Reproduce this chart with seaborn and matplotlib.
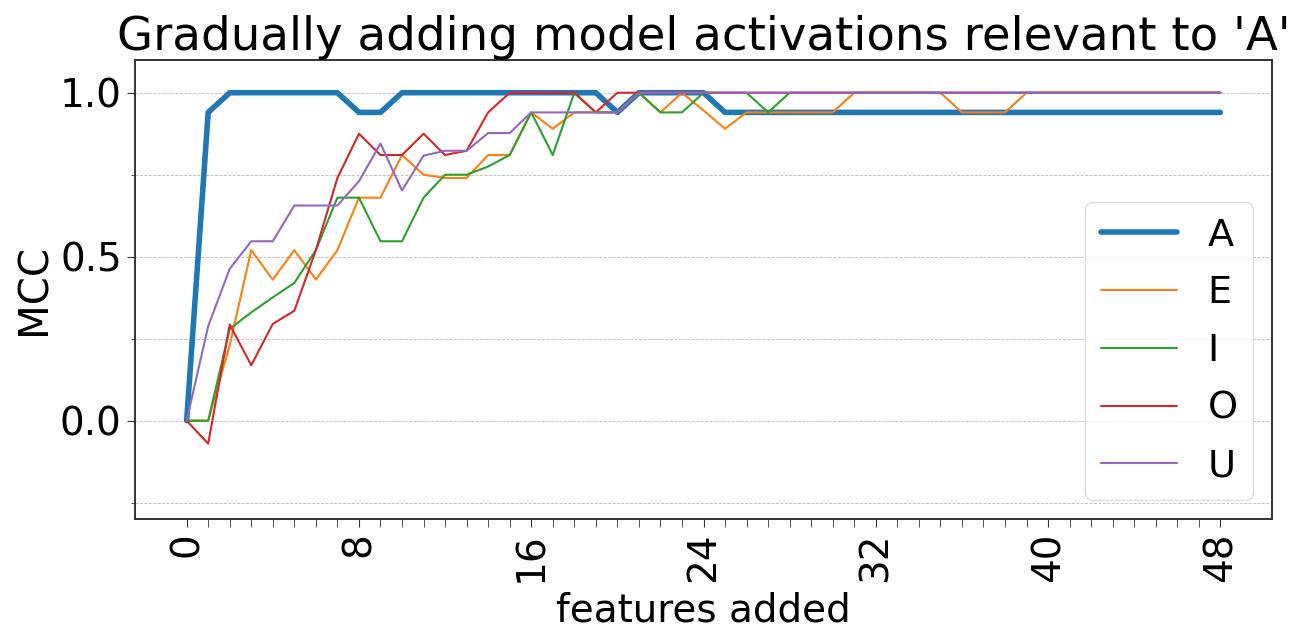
import numpy as np
import pandas as pd
import matplotlib
matplotlib.use("Agg")
import matplotlib.pyplot as plt
from matplotlib.ticker import MultipleLocator, FixedLocator
import seaborn as sns

features = list(range(49))
A = [0.0, 0.94, 1.0, 1.0, 1.0, 1.0, 1.0, 1.0, 0.94, 0.94,
     1.0, 1.0, 1.0, 1.0, 1.0, 1.0, 1.0, 1.0, 1.0, 1.0,
     0.94, 1.0, 1.0, 1.0, 1.0, 0.94, 0.94, 0.94, 0.94, 0.94,
     0.94, 0.94, 0.94, 0.94, 0.94, 0.94, 0.94, 0.94, 0.94, 0.94,
     0.94, 0.94, 0.94, 0.94, 0.94, 0.94, 0.94, 0.94, 0.94]
E = [0.0, 0.0, 0.23, 0.52, 0.43, 0.52, 0.43, 0.52, 0.68, 0.68,
     0.81, 0.75, 0.74, 0.74, 0.81, 0.81, 0.94, 0.89, 0.94, 0.94,
     0.94, 1.0, 0.94, 1.0, 0.946, 0.89, 0.94, 0.94, 0.94, 0.94,
     0.94, 1.0, 1.0, 1.0, 1.0, 1.0, 0.94, 0.94, 0.94, 1.0,
     1.0, 1.0, 1.0, 1.0, 1.0, 1.0, 1.0, 1.0, 1.0]
I = [0.0, 0.0, 0.28, 0.33, 0.376, 0.42, 0.52, 0.68, 0.68, 0.547,
     0.547, 0.68, 0.75, 0.75, 0.775, 0.81, 0.94, 0.81, 1.0, 0.94,
     0.94, 1.0, 0.94, 0.94, 1.0, 1.0, 1.0, 0.94, 1.0, 1.0,
     1.0, 1.0, 1.0, 1.0, 1.0, 1.0, 1.0, 1.0, 1.0, 1.0,
     1.0, 1.0, 1.0, 1.0, 1.0, 1.0, 1.0, 1.0, 1.0]
O = [0.0, -0.07, 0.293, 0.169, 0.295, 0.335, 0.52, 0.74, 0.875, 0.81,
     0.81, 0.875, 0.81, 0.823, 0.94, 1.0, 1.0, 1.0, 1.0, 0.94,
     1.0, 1.0, 1.0, 1.0, 1.0, 1.0, 1.0, 1.0, 1.0, 1.0,
     1.0, 1.0, 1.0, 1.0, 1.0, 1.0, 1.0, 1.0, 1.0, 1.0,
     1.0, 1.0, 1.0, 1.0, 1.0, 1.0, 1.0, 1.0, 1.0]
U = [0.0, 0.288, 0.463, 0.547, 0.547, 0.656, 0.656, 0.656, 0.73, 0.845,
     0.702, 0.808, 0.823, 0.823, 0.877, 0.877, 0.94, 0.94, 0.94, 0.94,
     0.94, 1.0, 1.0, 1.0, 1.0, 1.0, 1.0, 1.0, 1.0, 1.0,
     1.0, 1.0, 1.0, 1.0, 1.0, 1.0, 1.0, 1.0, 1.0, 1.0,
     1.0, 1.0, 1.0, 1.0, 1.0, 1.0, 1.0, 1.0, 1.0]
series_names = ["A", "E", "I", "O", "U"]
series_values = [A, E, I, O, U]
colors = ["#1f77b4", "#ff7f0e", "#2ca02c", "#d62728", "#9467bd"]
widths = [4.0, 1.5, 1.5, 1.5, 1.5]

sns.set_style("ticks")
plt.rcParams["font.family"] = ["DejaVu Sans"]
plt.rcParams["text.color"] = "black"
plt.rcParams["axes.labelcolor"] = "black"
plt.rcParams["xtick.labelcolor"] = "black"
plt.rcParams["ytick.labelcolor"] = "black"

fig = plt.figure(figsize=(13.04, 6.43), dpi=100)
ax = fig.add_axes([0.1035, 0.1928, 0.872, 0.714])

for name, vals, c, w in zip(series_names, series_values, colors, widths):
    df = pd.DataFrame({"features added": features, "MCC": vals})
    sns.lineplot(data=df, x="features added", y="MCC", color=c, linewidth=w,
                 label=name, ax=ax)

ax.set_xlim(-2.4, 50.4)
ax.set_ylim(-0.3, 1.1)
ax.xaxis.set_major_locator(MultipleLocator(8))
ax.xaxis.set_minor_locator(FixedLocator(features))
ax.yaxis.set_major_locator(MultipleLocator(0.5))
ax.yaxis.set_minor_locator(MultipleLocator(0.25))
ax.grid(axis="y", which="both", linestyle="--", linewidth=0.6, color="#bbbbbb")
ax.set_axisbelow(True)
ax.tick_params(axis="x", which="major", labelsize=28, rotation=90, length=6, color="#333333")
ax.tick_params(axis="x", which="minor", length=6, color="#333333")
ax.tick_params(axis="y", which="major", labelsize=28, length=6, color="#333333")
ax.tick_params(axis="y", which="minor", length=3, color="#333333")
for s in ax.spines.values():
    s.set_color("#333333")
    s.set_linewidth(1.4)
ax.set_xlabel("features added", fontsize=28, labelpad=7, color="black")
ax.set_ylabel("MCC", fontsize=29, color="black")
ax.set_title("Gradually adding model activations relevant to 'A'", fontsize=33.6, color="black")
leg = ax.legend(loc="lower right", fontsize=27.5, frameon=True, handlelength=2.0,
                labelspacing=0.57)
leg.get_frame().set_edgecolor("#d5d5d5")
for t in leg.get_texts():
    t.set_color("black")

fig.savefig("out.png", dpi=100)
